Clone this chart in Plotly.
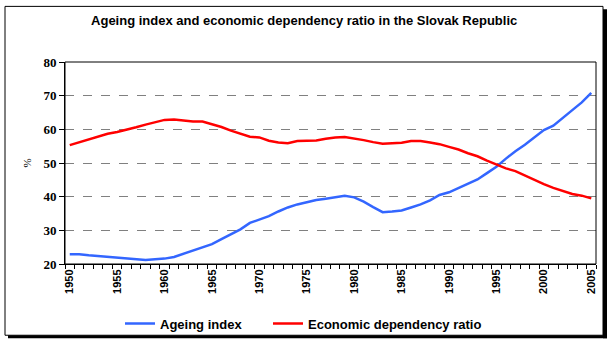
import plotly.graph_objects as go

years = list(range(1950, 2006))
ageing_index = [
    22.9, 22.9, 22.6, 22.4, 22.0, 21.8, 21.7, 21.4, 21.2, 21.4,
    21.6, 22.1, 23.0, 24.0, 25.0, 25.9, 27.4, 28.9, 30.3, 32.2,
    33.1, 34.2, 35.6, 36.8, 37.7, 38.4, 39.0, 39.4, 39.8, 40.3,
    39.8, 38.5, 36.9, 35.4, 35.6, 35.9, 36.8, 37.7, 38.9, 40.5,
    41.3, 42.5, 43.7, 45.1, 47.0, 48.9, 51.3, 53.5, 55.4, 57.6,
    59.8, 61.1, 63.3, 65.7, 68.0, 70.8,
]
economic_dependency = [
    55.3, 56.2, 57.1, 58.0, 58.7, 59.2, 59.8, 60.6, 61.4, 62.0,
    62.8, 62.9, 62.6, 62.3, 62.3, 61.6, 60.7, 59.6, 58.8, 57.8,
    57.6, 56.6, 56.1, 55.9, 56.5, 56.6, 56.7, 57.2, 57.6, 57.7,
    57.3, 56.8, 56.2, 55.7, 55.9, 56.0, 56.5, 56.5, 56.1, 55.6,
    54.8, 54.0, 52.9, 52.0, 50.7, 49.5, 48.4, 47.6, 46.3, 44.8,
    43.7, 42.6, 41.6, 40.8, 40.3, 39.5,
]
tick_years = list(range(1950, 2006, 5))
y_ticks = [20, 30, 40, 50, 60, 70, 80]

W, H = 612, 350
L, R, T, B = 65, 596, 62, 269

def px(x):
    return (x - L) / (R - L)

def py(y):
    return (B - y) / (B - T)

fig = go.Figure()
fig.add_trace(go.Scatter(x=years, y=ageing_index, mode="lines", name="Ageing index",
                         line=dict(color="#3366FF", width=2.5), legend="legend"))
fig.add_trace(go.Scatter(x=years, y=economic_dependency, mode="lines",
                         name="Economic dependency ratio",
                         line=dict(color="#FF0000", width=2.5), legend="legend2"))

shapes = [
    dict(type="rect", xref="paper", yref="paper", x0=px(5), x1=px(603), y0=py(5), y1=py(342),
         line=dict(color="black", width=1), layer="below"),
    dict(type="rect", xref="paper", yref="paper", x0=px(603), x1=px(607), y0=py(8), y1=py(345),
         line=dict(width=0), fillcolor="black", layer="below"),
    dict(type="rect", xref="paper", yref="paper", x0=px(8), x1=px(607), y0=py(342), y1=py(345),
         line=dict(width=0), fillcolor="black", layer="below"),
    dict(type="rect", xref="paper", yref="paper", x0=0, x1=1, y0=0, y1=1,
         line=dict(color="black", width=1)),
]

legend_font = dict(family="Liberation Sans", size=13, color="black", weight="bold")

fig.update_layout(
    width=W, height=H,
    margin=dict(l=L, r=W - R, t=T, b=H - B),
    paper_bgcolor="white", plot_bgcolor="white",
    title=dict(text="Ageing index and economic dependency ratio in the Slovak Republic",
               x=0.497, xref="container", xanchor="center", y=1 - 20 / H, yanchor="middle",
               font=dict(family="Liberation Sans", size=13, color="black", weight="bold")),
    shapes=shapes,
    showlegend=True,
    legend=dict(orientation="h", x=px(120), xanchor="left", y=py(330), yanchor="middle",
                font=legend_font, itemwidth=30, bgcolor="rgba(0,0,0,0)"),
    legend2=dict(orientation="h", x=px(268), xanchor="left", y=py(330), yanchor="middle",
                 font=legend_font, itemwidth=30, bgcolor="rgba(0,0,0,0)"),
    xaxis=dict(range=[1949.5, 2005.5], tickmode="array", tickvals=tick_years,
               ticktext=[str(y) for y in tick_years], tickangle=-90, ticks="",
               showgrid=False, zeroline=False, showline=True, linecolor="black",
               tickfont=dict(family="Liberation Sans", size=11, color="black", weight="bold"),
               minor=dict(ticks="outside", tick0=1949.5, dtick=1, ticklen=4,
                          tickcolor="black", showgrid=False)),
    yaxis=dict(range=[20, 80], tickmode="array", tickvals=y_ticks, ticks="outside",
               ticklen=5, tickcolor="black", showline=True, linecolor="black",
               zeroline=False, showgrid=True, gridcolor="#808080", griddash="dash",
               gridwidth=1,
               tickfont=dict(family="Liberation Serif", size=13, color="black", weight="bold"),
               title=dict(text="%", standoff=9,
                          font=dict(family="Liberation Serif", size=11, color="black"))),
)

fig.write_html("out.html")
